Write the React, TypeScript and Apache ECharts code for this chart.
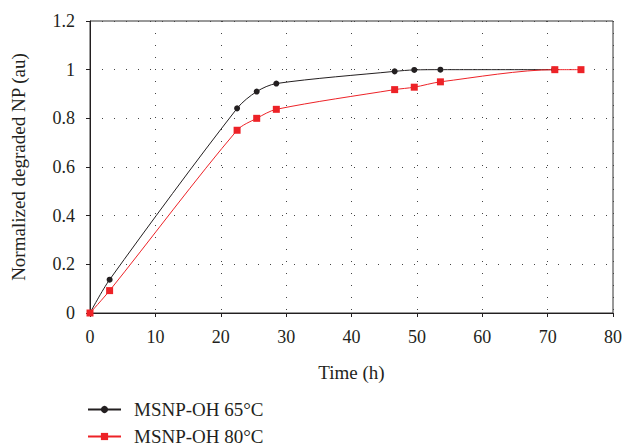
import React, { useEffect, useRef } from "react";
import * as echarts from "echarts";

const timeBlack = [0, 3, 22.5, 25.5, 28.5, 46.6, 49.6, 53.6, 71];
const valBlack = [0, 0.137, 0.841, 0.91, 0.943, 0.993, 0.999, 1.0, 1.0];
const timeRed = [0, 3, 22.5, 25.5, 28.5, 46.6, 49.6, 53.6, 71.1, 75.1];
const valRed = [0, 0.092, 0.751, 0.8, 0.837, 0.918, 0.928, 0.95, 1.0, 1.0];
const seriesNames = ["MSNP-OH 65°C", "MSNP-OH 80°C"];

const FONT = "'Liberation Serif', 'DejaVu Serif', serif";
const TXT = "#231f20";
const RED = "#ed2227";

export default function App() {
  const ref = useRef<HTMLDivElement>(null);
  useEffect(() => {
    const chart = echarts.init(ref.current!, null, { renderer: "svg" });
    const dotted = { color: "#444", width: 1, type: [1, 11] as number[] };
    const legendBase = {
      orient: "vertical",
      left: 87,
      padding: 0,
      itemWidth: 33,
      itemHeight: 9,
      textStyle: { fontFamily: FONT, fontSize: 19, color: TXT, padding: [0, 0, 0, 8] },
    };
    chart.setOption({
      animation: false,
      textStyle: { fontFamily: FONT, color: TXT },
      grid: {
        left: 90,
        right: 12,
        top: 21,
        bottom: 133,
        show: true,
        borderColor: "#333",
        borderWidth: 1,
      },
      legend: [
        { ...legendBase, top: 400, data: [seriesNames[0]] },
        { ...legendBase, top: 427, data: [seriesNames[1]] },
      ],
      xAxis: {
        type: "value",
        min: 0,
        max: 80,
        interval: 10,
        name: "Time (h)",
        nameLocation: "middle",
        nameGap: 50,
        nameTextStyle: { fontFamily: FONT, fontSize: 19, color: TXT },
        axisLine: { lineStyle: { color: TXT, width: 1 } },
        axisTick: { show: true, length: 4, lineStyle: { color: TXT } },
        axisLabel: { fontFamily: FONT, fontSize: 18, color: TXT, margin: 15 },
        splitLine: { show: true, lineStyle: dotted },
      },
      yAxis: {
        type: "value",
        min: 0,
        max: 1.2,
        interval: 0.2,
        name: "Normalized degraded NP (au)",
        nameLocation: "middle",
        nameGap: 62,
        nameTextStyle: { fontFamily: FONT, fontSize: 19, color: TXT },
        axisLine: { show: true, lineStyle: { color: TXT, width: 1 } },
        axisTick: { show: true, length: 4, lineStyle: { color: TXT } },
        axisLabel: { fontFamily: FONT, fontSize: 18, color: TXT, margin: 15 },
        splitLine: { show: true, lineStyle: dotted },
      },
      series: [
        {
          name: seriesNames[0],
          type: "line",
          data: timeBlack.map((t, i) => [t, valBlack[i]]),
          smooth: 0.3,
          symbol: "circle",
          symbolSize: 6,
          itemStyle: { color: TXT },
          lineStyle: { color: TXT, width: 1 },
        },
        {
          name: seriesNames[1],
          type: "line",
          data: timeRed.map((t, i) => [t, valRed[i]]),
          smooth: 0.3,
          symbol: "rect",
          symbolSize: 7,
          itemStyle: { color: RED },
          lineStyle: { color: RED, width: 1 },
        },
      ],
    });
    return () => chart.dispose();
  }, []);
  return <div ref={ref} style={{ width: 625, height: 446, position: "absolute", left: 0, top: 0 }} />;
}
